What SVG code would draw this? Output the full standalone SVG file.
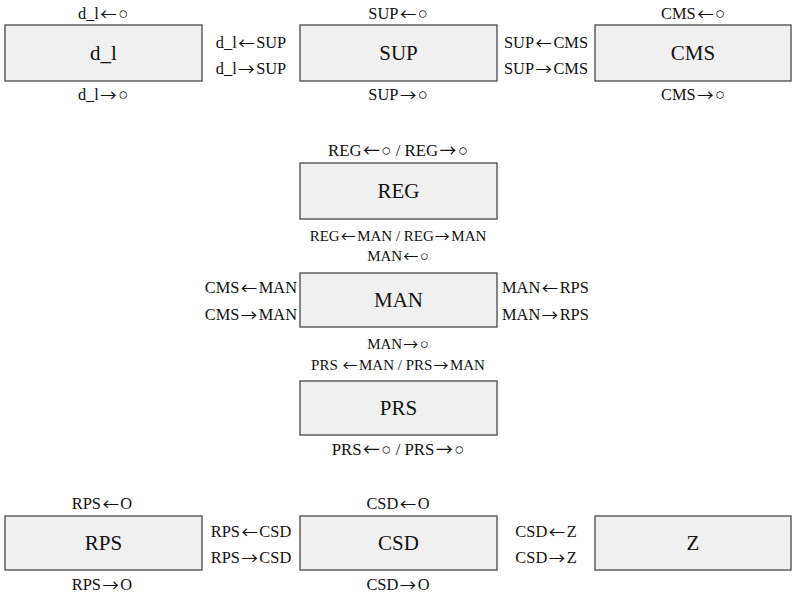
<svg xmlns="http://www.w3.org/2000/svg" width="792" height="595" viewBox="0 0 792 595">
<style>
.box{fill:#f0f0f0;stroke:#555;stroke-width:1.4}
text{font-family:"Liberation Serif","Times New Roman",serif;fill:#111;text-anchor:middle}
.nl{font-size:21px}
.lb{font-size:16.4px}
.lc{font-size:15px}
.lk{font-size:16.8px}
.ll{font-size:16.4px;text-anchor:start}
.lr{font-size:16.4px;text-anchor:end}
.a{font-family:"Noto Sans CJK SC","DejaVu Sans",sans-serif;font-size:1em;baseline-shift:-1px;letter-spacing:1.5px}
</style>
<rect width="792" height="595" fill="#fff"/>
<g id="connectors"/>
<g id="d_l">
<rect class="box" x="5" y="25" width="197" height="56"/>
<text class="nl" x="103.5" y="60">d_l</text>
<text class="lb" x="103" y="19">d_l<tspan class="a" dx="1.5">←</tspan>○</text>
<text class="lb" x="103" y="100">d_l<tspan class="a" dx="1.5">→</tspan>○</text>
</g>
<g id="SUP">
<rect class="box" x="300" y="25" width="197" height="56"/>
<text class="nl" x="398.5" y="60">SUP</text>
<text class="lb" x="398" y="19">SUP<tspan class="a" dx="1.5">←</tspan>○</text>
<text class="lb" x="398" y="100">SUP<tspan class="a" dx="1.5">→</tspan>○</text>
</g>
<g id="CMS">
<rect class="box" x="595" y="25" width="196" height="56"/>
<text class="nl" x="693" y="60">CMS</text>
<text class="lb" x="693" y="19">CMS<tspan class="a" dx="1.5">←</tspan>○</text>
<text class="lb" x="693" y="100">CMS<tspan class="a" dx="1.5">→</tspan>○</text>
</g>
<g id="labels-top">
<text class="lb" x="251" y="48">d_l<tspan class="a" dx="1.5">←</tspan>SUP</text>
<text class="lb" x="251" y="74">d_l<tspan class="a" dx="1.5">→</tspan>SUP</text>
<text class="lb" x="546" y="48">SUP<tspan class="a" dx="1.5">←</tspan>CMS</text>
<text class="lb" x="546" y="74">SUP<tspan class="a" dx="1.5">→</tspan>CMS</text>
</g>
<g id="REG">
<rect class="box" x="300" y="163" width="197" height="56"/>
<text class="nl" x="398.5" y="198">REG</text>
<text class="lk" x="398" y="156">REG<tspan class="a" dx="1.5">←</tspan>○ / REG<tspan class="a" dx="1.5">→</tspan>○</text>
<text class="lc" x="398" y="241">REG<tspan class="a" dx="1">←</tspan>MAN / REG<tspan class="a" dx="1">→</tspan>MAN</text>
</g>
<g id="MAN">
<rect class="box" x="300" y="273" width="197" height="54"/>
<text class="nl" x="398.5" y="307">MAN</text>
<text class="lc" x="398" y="261">MAN<tspan class="a" dx="1">←</tspan>○</text>
<text class="lc" x="398" y="349">MAN<tspan class="a" dx="1">→</tspan>○</text>
<text class="lr" x="297" y="293">CMS<tspan class="a" dx="1.5">←</tspan>MAN</text>
<text class="lr" x="297" y="320">CMS<tspan class="a" dx="1.5">→</tspan>MAN</text>
<text class="ll" x="502" y="293">MAN<tspan class="a" dx="1.5">←</tspan>RPS</text>
<text class="ll" x="502" y="320">MAN<tspan class="a" dx="1.5">→</tspan>RPS</text>
</g>
<g id="PRS">
<rect class="box" x="300" y="381" width="197" height="54"/>
<text class="nl" x="398.5" y="415">PRS</text>
<text class="lc" x="398" y="370">PRS <tspan class="a" dx="1">←</tspan>MAN / PRS<tspan class="a" dx="1">→</tspan>MAN</text>
<text class="lk" x="398" y="455">PRS<tspan class="a" dx="1.5">←</tspan>○ / PRS<tspan class="a" dx="1.5">→</tspan>○</text>
</g>
<g id="RPS">
<rect class="box" x="5" y="516" width="197" height="54"/>
<text class="nl" x="103.5" y="550">RPS</text>
<text class="lb" x="102" y="509">RPS<tspan class="a" dx="1.5">←</tspan>O</text>
<text class="lb" x="102" y="590">RPS<tspan class="a" dx="1.5">→</tspan>O</text>
</g>
<g id="CSD">
<rect class="box" x="300" y="516" width="197" height="54"/>
<text class="nl" x="398.5" y="550">CSD</text>
<text class="lb" x="398" y="509">CSD<tspan class="a" dx="1.5">←</tspan>O</text>
<text class="lb" x="398" y="590">CSD<tspan class="a" dx="1.5">→</tspan>O</text>
</g>
<g id="Z">
<rect class="box" x="595" y="516" width="196" height="54"/>
<text class="nl" x="693" y="550">Z</text>
</g>
<g id="labels-bottom">
<text class="lb" x="251" y="537">RPS<tspan class="a" dx="1.5">←</tspan>CSD</text>
<text class="lb" x="251" y="563">RPS<tspan class="a" dx="1.5">→</tspan>CSD</text>
<text class="lb" x="546" y="537">CSD<tspan class="a" dx="1.5">←</tspan>Z</text>
<text class="lb" x="546" y="563">CSD<tspan class="a" dx="1.5">→</tspan>Z</text>
</g>
</svg>
